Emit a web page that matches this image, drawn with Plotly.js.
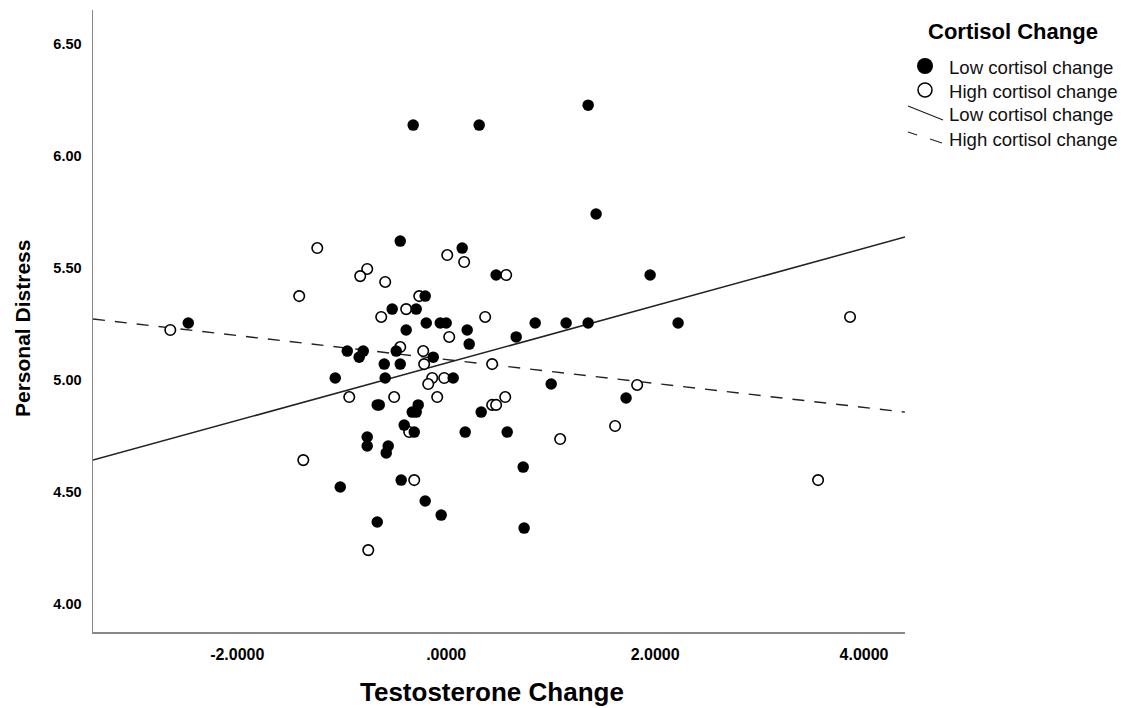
<!DOCTYPE html>
<html>
<head>
<meta charset="utf-8">
<script src="https://cdn.plot.ly/plotly-3.0.1.min.js"></script>
<style>html,body{margin:0;padding:0;background:#fff;}#chart{width:1134px;height:708px;}</style>
</head>
<body>
<div id="chart"></div>
<script>
// ---- data ----
const lowX = [-2.469,-0.440,0.153,-0.316,0.316,1.359,1.435,1.952,0.478,-0.201,-0.517,-0.287,-0.191,-0.057,0.000,0.852,1.148,1.359,2.220,-0.383,0.201,0.670,0.220,-0.947,-0.794,-0.833,-0.478,-0.124,-0.593,-0.440,-1.062,-0.584,0.067,1.005,-0.660,-0.641,-0.268,-0.325,-0.287,0.335,-0.402,-0.306,0.182,0.584,-0.756,-0.756,-0.555,-0.574,1.722,0.737,-0.431,-1.014,-0.201,-0.048,-0.660,0.746];
const lowY = [5.254,5.619,5.588,6.136,6.136,6.225,5.740,5.468,5.468,5.374,5.316,5.316,5.254,5.254,5.254,5.254,5.254,5.254,5.254,5.223,5.223,5.192,5.160,5.129,5.129,5.102,5.129,5.102,5.071,5.071,5.009,5.009,5.009,4.982,4.889,4.889,4.889,4.857,4.857,4.857,4.799,4.768,4.768,4.768,4.746,4.706,4.706,4.675,4.920,4.612,4.554,4.523,4.461,4.398,4.367,4.340];
const highX = [-2.641,-1.234,-1.407,-0.756,-0.823,-0.584,0.010,0.172,0.574,-0.258,-0.383,-0.622,0.373,3.866,0.029,-0.440,-0.220,-0.211,0.440,-0.134,-0.019,-0.172,1.828,-0.928,-0.498,-0.086,0.565,0.440,0.478,-0.354,1.091,1.617,-1.368,-0.306,3.560,-0.746];
const highY = [5.223,5.588,5.374,5.495,5.463,5.437,5.557,5.526,5.468,5.374,5.316,5.281,5.281,5.281,5.192,5.147,5.129,5.071,5.071,5.009,5.009,4.982,4.978,4.924,4.924,4.924,4.924,4.889,4.889,4.768,4.737,4.795,4.643,4.554,4.554,4.242];
const fitLowX = [-3.381, 4.392];
const fitLowY = [4.643, 5.637];
const fitHighX = [-3.381, 4.392];
const fitHighY = [5.272, 4.857];
const xTickVals = [-2, 0, 2, 4];
const xTickText = ["-2.0000", ".0000", "2.0000", "4.0000"];
const yTickVals = [4.0, 4.5, 5.0, 5.5, 6.0, 6.5];
const legendTitle = "Cortisol Change";
const legendLabels = ["Low cortisol change", "High cortisol change", "Low cortisol change", "High cortisol change"];
const xTitle = "Testosterone Change";
const yTitle = "Personal Distress";

// ---- layout helpers (pixel -> paper) ----
const W = 1134, H = 708, L = 93, R = 229, T = 10, B = 76;
const pw = W - L - R, ph = H - T - B;
const px = v => (v - L) / pw;
const py = v => (H - B - v) / ph;
const FONT = "Arial, 'Liberation Sans', sans-serif";

const traces = [
  {x: fitLowX, y: fitLowY, mode: 'lines', line: {color: '#222', width: 1.5}, showlegend: false, hoverinfo: 'skip'},
  {x: fitHighX, y: fitHighY, mode: 'lines', line: {color: '#222', width: 1.4, dash: '12px,10px'}, showlegend: false, hoverinfo: 'skip'},
  {x: highX, y: highY, mode: 'markers', marker: {symbol: 'circle', size: 10.5, color: '#fff', line: {color: '#000', width: 1.6}}, showlegend: false},
  {x: lowX, y: lowY, mode: 'markers', marker: {symbol: 'circle', size: 11.5, color: '#000', line: {width: 0}}, showlegend: false}
];

const shapes = [
  {type: 'circle', xref: 'paper', yref: 'paper', xsizemode: 'pixel', ysizemode: 'pixel', xanchor: px(925), yanchor: py(66), x0: -8, x1: 8, y0: -8, y1: 8, fillcolor: '#000', line: {width: 0}},
  {type: 'circle', xref: 'paper', yref: 'paper', xsizemode: 'pixel', ysizemode: 'pixel', xanchor: px(925), yanchor: py(90), x0: -7, x1: 7, y0: -7, y1: 7, fillcolor: '#fff', line: {color: '#000', width: 1.5}},
  {type: 'line', xref: 'paper', yref: 'paper', x0: px(908), y0: py(106), x1: px(943), y1: py(120), line: {color: '#222', width: 1.3}},
  {type: 'line', xref: 'paper', yref: 'paper', x0: px(908), y0: py(132), x1: px(917), y1: py(135), line: {color: '#222', width: 1.3}},
  {type: 'line', xref: 'paper', yref: 'paper', x0: px(930), y0: py(139), x1: px(942), y1: py(143), line: {color: '#222', width: 1.3}}
];

const legY = [68, 91, 115, 139];
const annotations = [
  {text: legendTitle, xref: 'paper', yref: 'paper', x: px(1013), y: py(32), xanchor: 'center', yanchor: 'middle', showarrow: false, font: {family: FONT, size: 22, color: '#000', weight: 'bold'}},
  {text: xTitle, xref: 'paper', yref: 'paper', x: px(492), y: py(692), xanchor: 'center', yanchor: 'middle', showarrow: false, font: {family: FONT, size: 26, color: '#000', weight: 'bold'}},
  {text: yTitle, xref: 'paper', yref: 'paper', x: px(22), y: py(329), xanchor: 'center', yanchor: 'middle', textangle: -90, showarrow: false, font: {family: FONT, size: 21, color: '#000', weight: 'bold'}}
].concat(legendLabels.map((t, i) => ({
  text: t, xref: 'paper', yref: 'paper', x: px(947), y: py(legY[i]), xanchor: 'left', yanchor: 'middle', showarrow: false,
  font: {family: FONT, size: 18.6, color: '#111'}
})));

const layout = {
  width: W, height: H,
  margin: {l: L, r: R, t: T, b: B, pad: 0},
  paper_bgcolor: '#fff', plot_bgcolor: '#fff',
  showlegend: false,
  xaxis: {
    range: [-3.381, 4.392], tickvals: xTickVals, ticktext: xTickText,
    showgrid: false, zeroline: false, showline: true, linecolor: '#888', linewidth: 1.5,
    ticks: 'outside', ticklen: 7, tickcolor: 'rgba(0,0,0,0)',
    tickfont: {family: FONT, size: 16, color: '#000', weight: 'bold'}
  },
  yaxis: {
    range: [3.877, 6.649], tickvals: yTickVals, tickformat: '.2f',
    showgrid: false, zeroline: false, showline: true, linecolor: '#888', linewidth: 1.5,
    ticks: 'outside', ticklen: 7, tickcolor: 'rgba(0,0,0,0)',
    tickfont: {family: FONT, size: 14.5, color: '#000', weight: 'bold'}
  },
  shapes: shapes,
  annotations: annotations
};

Plotly.newPlot('chart', traces, layout, {displayModeBar: false, staticPlot: true});
</script>
</body>
</html>
